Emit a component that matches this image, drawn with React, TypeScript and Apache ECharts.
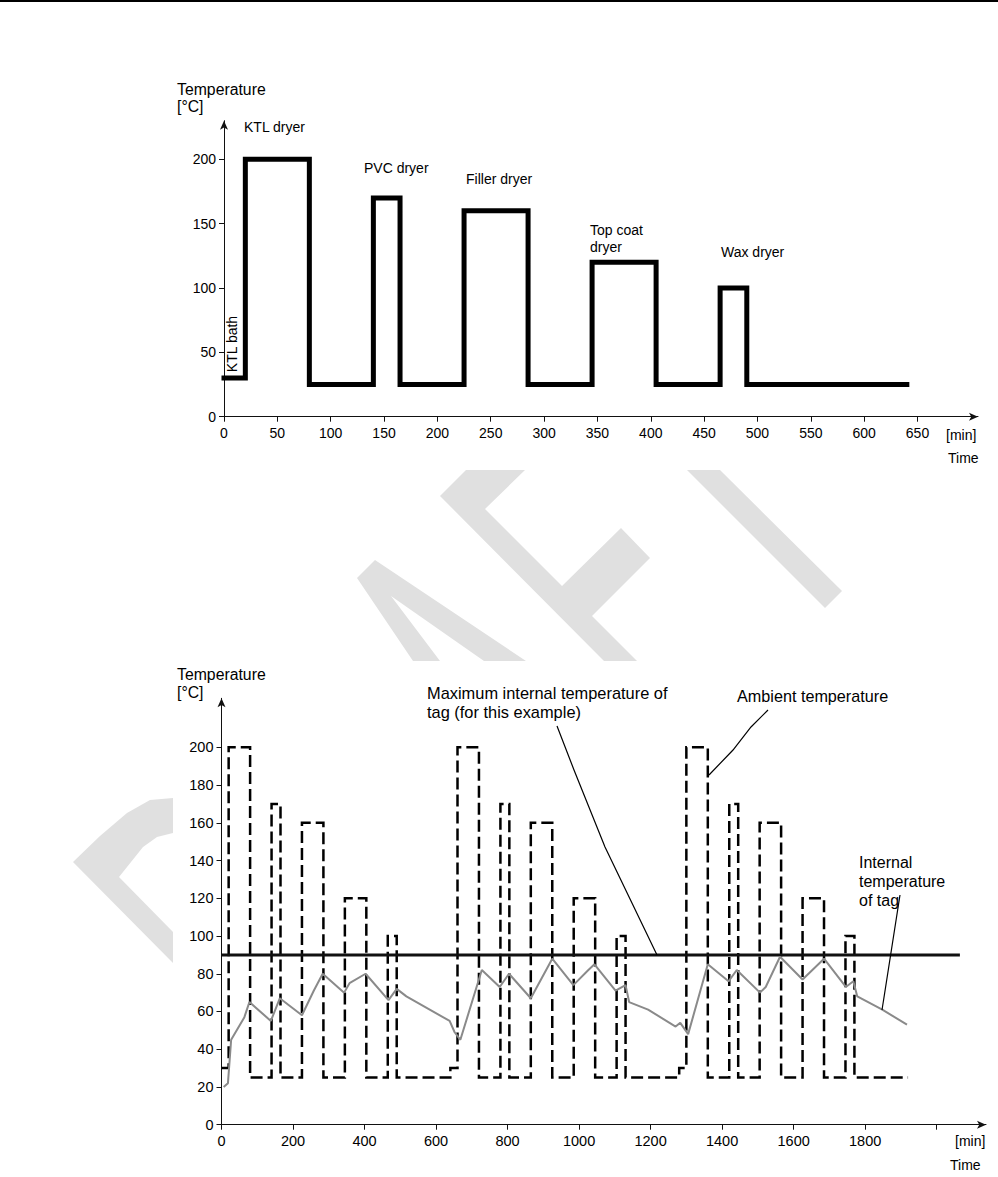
import React, { useEffect, useRef } from "react";
import * as echarts from "echarts";

// ---------- DATA ----------
// Top chart: oven profile (step levels between breakpoints, minutes / °C)
const TOP_TIMES = [0, 20, 80, 140, 165, 225, 285, 345, 405, 465, 490, 640];
const TOP_LEVELS = [30, 200, 25, 170, 25, 160, 25, 120, 25, 100, 25];
const TOP_X_TICKS = [0, 50, 100, 150, 200, 250, 300, 350, 400, 450, 500, 550, 600, 650];
const TOP_Y_TICKS = [0, 50, 100, 150, 200];

// Bottom chart: ambient temperature (three passes through the line)
const AMBIENT_TIMES = [
  0, 20, 80, 140, 165, 225, 285, 345, 405, 465, 490,
  640, 660, 720, 780, 805, 865, 925, 985, 1045, 1105, 1130,
  1280, 1300, 1360, 1420, 1445, 1505, 1565, 1625, 1685, 1745, 1770, 1920,
];
const AMBIENT_LEVELS = [
  30, 200, 25, 170, 25, 160, 25, 120, 25, 100, 25,
  30, 200, 25, 170, 25, 160, 25, 120, 25, 100, 25,
  30, 200, 25, 170, 25, 160, 25, 120, 25, 100, 25,
];
// Maximum internal temperature of tag
const MAX_TAG_TEMP = 90;
const MAX_LINE_RANGE = [0, 2065];
// Internal temperature of tag [min, °C]
const INTERNAL_TEMP = [
  [6, 20], [18, 22], [27, 45], [64, 57], [78, 65], [138, 55], [163, 67], [225, 58],
  [258, 71], [283, 80], [343, 70], [358, 75], [403, 80], [467, 66], [490, 72], [517, 68],
  [638, 55], [652, 49], [668, 45], [728, 82], [778, 73], [804, 80], [865, 67], [925, 88],
  [984, 74], [1026, 82], [1043, 85], [1102, 71], [1130, 74], [1140, 65], [1193, 61],
  [1270, 52], [1283, 54], [1305, 48], [1360, 85], [1418, 76], [1441, 82], [1506, 70],
  [1522, 73], [1562, 89], [1625, 77], [1685, 88], [1746, 73], [1767, 76], [1778, 68],
  [1848, 61], [1917, 53],
];
const BOTTOM_X_TICKS = [0, 200, 400, 600, 800, 1000, 1200, 1400, 1600, 1800, 2000];
const BOTTOM_X_LABELS = [0, 200, 400, 600, 800, 1000, 1200, 1400, 1600, 1800];
const BOTTOM_Y_TICKS = [0, 20, 40, 60, 80, 100, 120, 140, 160, 180, 200];

// ---------- HELPERS ----------
function stepPoints(times: number[], levels: number[]) {
  const pts: number[][] = [];
  for (let i = 0; i < levels.length; i++) {
    pts.push([times[i], levels[i]]);
    pts.push([times[i + 1], levels[i]]);
  }
  return pts;
}

const FONT = "'Liberation Sans', Arial, Helvetica, sans-serif";

function txt(x: number, y: number, text: string, size: number, extra: any = {}) {
  return {
    type: "text",
    x,
    y,
    rotation: extra.rotation || 0,
    style: {
      text,
      fill: "#000",
      font: `${size}px ${FONT}`,
      align: extra.align || "left",
      verticalAlign: "middle",
    },
    z: 10,
  };
}

function poly(points: number[][], fill = "#e0e0e0") {
  return { type: "polygon", shape: { points }, style: { fill }, z: -5, silent: true };
}

function leader(points: number[][]) {
  return {
    type: "polyline",
    shape: { points },
    style: { stroke: "#000", lineWidth: 1.2, fill: null },
    z: 10,
  };
}

function axisBase(gridIndex: number, min: number, max: number, ticks: number[], labels: number[], margin: number, fontSize: number) {
  return {
    type: "value",
    gridIndex,
    min,
    max,
    splitLine: { show: false },
    axisLine: {
      show: true,
      onZero: false,
      symbol: ["none", "arrow"],
      symbolSize: [6, 9],
      lineStyle: { color: "#111", width: 1 },
    },
    axisTick: { show: true, length: 5, customValues: ticks, lineStyle: { color: "#111", width: 1 } },
    axisLabel: {
      show: true,
      customValues: labels,
      color: "#000",
      fontSize,
      fontFamily: FONT,
      margin,
      formatter: (v: number) => (labels.indexOf(v) >= 0 ? String(v) : ""),
    },
  };
}

export default function App() {
  const ref = useRef<HTMLDivElement>(null);

  useEffect(() => {
    if (!ref.current) return;
    const chart = echarts.init(ref.current, null, { renderer: "svg" });

    const option: any = {
      animation: false,
      backgroundColor: "#fff",
      textStyle: { fontFamily: FONT },
      grid: [
        { left: 224, top: 120.7, width: 754, height: 296 },
        { left: 221.5, top: 698.3, width: 764.5, height: 426.4 },
      ],
      xAxis: [
        axisBase(0, 0, 706.7, TOP_X_TICKS, TOP_X_TICKS, 9, 14),
        axisBase(1, 0, 2138, BOTTOM_X_TICKS, BOTTOM_X_LABELS, 9, 14.5),
      ],
      yAxis: [
        axisBase(0, 0, 230, TOP_Y_TICKS, TOP_Y_TICKS, 8, 14),
        axisBase(1, 0, 226, BOTTOM_Y_TICKS, BOTTOM_Y_TICKS, 8, 14.5),
      ],
      series: [
        {
          type: "line",
          xAxisIndex: 0,
          yAxisIndex: 0,
          data: stepPoints(TOP_TIMES, TOP_LEVELS),
          symbol: "none",
          clip: false,
          lineStyle: { color: "#000", width: 5, join: "miter", cap: "square" },
        },
        {
          type: "line",
          xAxisIndex: 1,
          yAxisIndex: 1,
          data: stepPoints(AMBIENT_TIMES, AMBIENT_LEVELS),
          symbol: "none",
          clip: false,
          lineStyle: { color: "#000", width: 2.5, type: [12, 5], join: "miter" },
        },
        {
          type: "line",
          xAxisIndex: 1,
          yAxisIndex: 1,
          data: MAX_LINE_RANGE.map((t) => [t, MAX_TAG_TEMP]),
          symbol: "none",
          clip: false,
          lineStyle: { color: "#111", width: 3 },
        },
        {
          type: "line",
          xAxisIndex: 1,
          yAxisIndex: 1,
          data: INTERNAL_TEMP,
          symbol: "none",
          clip: false,
          lineStyle: { color: "#8a8a8a", width: 2 },
        },
      ],
      graphic: [
        // page top rule
        { type: "rect", shape: { x: 0, y: 0, width: 998, height: 2 }, style: { fill: "#000" }, z: 10 },
        // watermark fragments
        poly([[73, 862], [100, 836], [127, 813], [150, 800], [173, 798], [173, 833], [157, 837], [143, 847], [119, 877], [173, 932], [173, 963]]),
        poly([[357, 578], [375, 560], [526, 661], [484, 661], [391, 596], [440, 661], [413, 661]]),
        poly([[440, 496], [466, 470], [525, 470], [485, 509], [562, 586], [621, 528], [650, 558], [592, 616], [637, 661], [604, 661]]),
        poly([[687, 470], [720, 470], [842, 591], [825, 608]]),
        // top chart texts
        txt(177, 89, "Temperature", 15.8),
        txt(177, 106, "[°C]", 15.8),
        txt(244, 127, "KTL dryer", 14),
        txt(364, 168, "PVC dryer", 14),
        txt(466, 179, "Filler dryer", 14),
        txt(590, 230, "Top coat", 14),
        txt(590, 247, "dryer", 14),
        txt(721, 252, "Wax dryer", 14),
        txt(232, 344, "KTL bath", 14, { rotation: Math.PI / 2, align: "center" }),
        txt(946, 435, "[min]", 14),
        txt(948, 458, "Time", 14),
        // bottom chart texts
        txt(177, 674, "Temperature", 15.8),
        txt(177, 692, "[°C]", 15.8),
        txt(427, 693, "Maximum internal temperature of", 16.4),
        txt(427, 712, "tag (for this example)", 16.4),
        txt(737, 696, "Ambient temperature", 16.2),
        txt(859, 862, "Internal", 16),
        txt(859, 881, "temperature", 16),
        txt(859, 900, "of tag", 16),
        txt(955, 1141, "[min]", 14),
        txt(950, 1165, "Time", 14),
        // leader lines
        leader([[557, 726], [574, 770], [605, 847], [657, 955]]),
        leader([[768, 710], [751, 727], [733, 750], [709, 775]]),
        leader([[900, 895], [882, 1010]]),
      ],
    };

    chart.setOption(option);
    return () => chart.dispose();
  }, []);

  return (
    <div
      ref={ref}
      style={{ position: "absolute", left: 0, top: 0, width: 998, height: 1177 }}
    />
  );
}
